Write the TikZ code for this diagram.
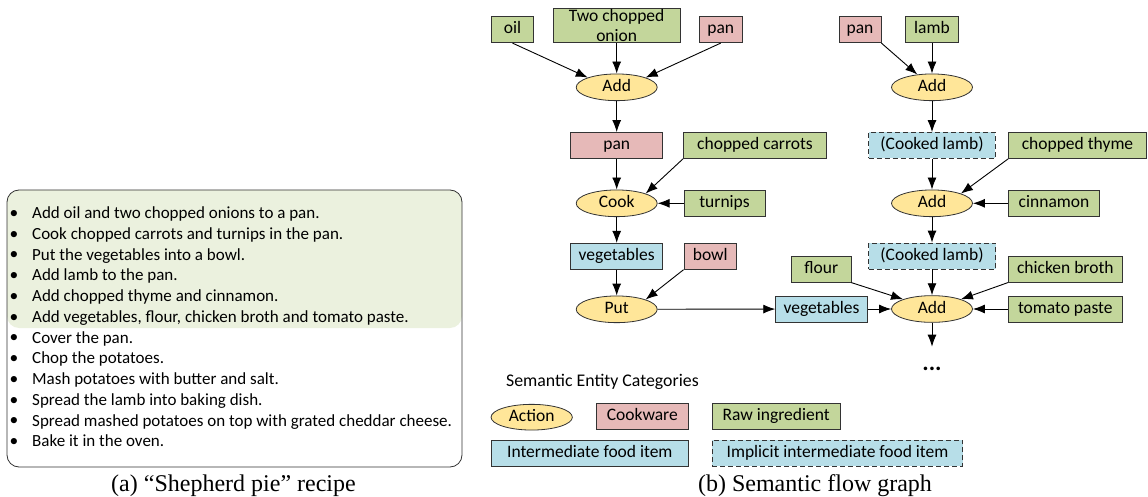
\documentclass[tikz,border=0pt]{standalone}
\usepackage{fontspec}
\setmainfont{Carlito}
\newfontfamily\captionfont{Liberation Serif}
\usetikzlibrary{shapes.geometric,arrows.meta}

\definecolor{actioncolor}{HTML}{FFE699}
\definecolor{cookwarecolor}{HTML}{E6B9B8}
\definecolor{rawcolor}{HTML}{C3D69B}
\definecolor{intercolor}{HTML}{B7DEE8}
\definecolor{recipecolor}{HTML}{EBF1DE}

\begin{document}
\begin{tikzpicture}[x=1pt, y=-1pt, font=\fontsize{17.5}{20.75}\selectfont]
    \tikzstyle{action_style} = [draw=black!80, line width=0.8pt, ellipse, fill=actioncolor, inner sep=0pt, minimum width=81pt, minimum height=26.7pt, text height=12pt, text depth=3.5pt]
    \tikzstyle{box_style} = [draw=black!80, line width=0.8pt, rectangle, inner sep=0pt, minimum height=26pt, text height=12pt, text depth=3.5pt]
    \tikzstyle{cookware_style} = [box_style, fill=cookwarecolor]
    \tikzstyle{raw_style} = [box_style, fill=rawcolor]
    \tikzstyle{inter_style} = [box_style, fill=intercolor]
    \tikzstyle{implicit_style} = [inter_style, dash pattern=on 5pt off 3pt]
    \tikzstyle{arrow_style1} = [-{Latex[length=12pt,width=9pt]}, black, line width=0.9pt]

    \useasboundingbox (0,0) rectangle (1148,497);

    % recipe
    \fill[recipecolor, rounded corners=12pt] (7,190) rectangle (462,328);
    \draw[black!80, line width=0.8pt, rounded corners=12pt] (7,190) rectangle (462,467);
    \foreach \txt [count=\i] in {Add oil and two chopped onions to a pan.,
        Cook chopped carrots and turnips in the pan.,
        Put the vegetables into a bowl.,
        Add lamb to the pan.,
        Add chopped thyme and cinnamon.,
        {Add vegetables, flour, chicken broth and tomato paste.},
        Cover the pan.,
        Chop the potatoes.,
        Mash potatoes with butter and salt.,
        Spread the lamb into baking dish.,
        Spread mashed potatoes on top with grated cheddar cheese.,
        Bake it in the oven.} {
        \node[anchor=west, inner sep=0pt, text height=12pt, text depth=3.5pt, font=\fontsize{17}{20.75}\selectfont] (line\i) at (32, {214.3+20.75*(\i-1)}) {\txt};
        \node[inner sep=0pt] (dot\i) at (14, {214.3+20.75*(\i-1)}) {\textbullet};
    }
    \node[anchor=base, font=\captionfont\fontsize{24}{28}\selectfont] (cap_a) at (233.5,491.5) {(a) “Shepherd pie” recipe};

    % left branch
    \node[raw_style, minimum width=41.6pt] (oil) at (512.5,29.7) {oil};
    \node[raw_style, minimum width=126.7pt, minimum height=34.4pt] (onion) at (616.7,25.5) {};
    \node[align=center, inner sep=0pt] (onion_text) at (onion) {Two chopped\\onion};
    \node[cookware_style, minimum width=42.7pt] (pan1) at (720.7,29.7) {pan};
    \node[action_style] (add1) at (616.7,87.3) {Add};
    \node[cookware_style, minimum width=92pt] (pan2) at (616.7,145.5) {pan};
    \node[raw_style, minimum width=143.3pt] (carrots) at (755,145.5) {chopped carrots};
    \node[action_style] (cook) at (616.7,203.3) {Cook};
    \node[raw_style, minimum width=81pt] (turnips) at (724.5,203.3) {turnips};
    \node[inter_style, minimum width=92pt] (veg1) at (616.7,256.3) {vegetables};
    \node[cookware_style, minimum width=52.7pt] (bowl) at (710.3,256.3) {bowl};
    \node[action_style] (put) at (616.7,309.3) {Put};

    % right branch
    \node[cookware_style, minimum width=42pt] (pan3) at (860,29.7) {pan};
    \node[raw_style, minimum width=52.7pt] (lamb) at (932,29.7) {lamb};
    \node[action_style] (add2) at (932,87.3) {Add};
    \node[implicit_style, minimum width=126.7pt] (lamb1) at (932,145.5) {(Cooked lamb)};
    \node[raw_style, minimum width=138pt] (thyme) at (1077.5,145.5) {chopped thyme};
    \node[action_style] (add3) at (932,203.3) {Add};
    \node[raw_style, minimum width=91.7pt] (cinnamon) at (1054,203.3) {cinnamon};
    \node[implicit_style, minimum width=127pt] (lamb2) at (932,256) {(Cooked lamb)};
    \node[raw_style, minimum width=59.3pt] (flour) at (821.3,269.2) {flour};
    \node[raw_style, minimum width=114pt] (broth) at (1065.3,269.2) {chicken broth};
    \node[inter_style, minimum width=91.7pt] (veg2) at (821.5,309) {vegetables};
    \node[action_style] (add4) at (932,309) {Add};
    \node[raw_style, minimum width=114pt] (paste) at (1065.3,309) {tomato paste};
    \coordinate (more) at (932,346.7);
    \node[anchor=base, font=\bfseries\fontsize{24}{28}\selectfont, inner sep=0pt] (dots) at (932,370) {...};

    \draw[arrow_style1] (oil.south) -- (add1.north west);
    \draw[arrow_style1] (onion) -- (add1);
    \draw[arrow_style1] (pan1.south) -- (add1.north east);
    \draw[arrow_style1] (add1) -- (pan2);
    \draw[arrow_style1] (pan2) -- (cook);
    \draw[arrow_style1] (carrots.south west) -- (cook.north east);
    \draw[arrow_style1] (turnips) -- (cook);
    \draw[arrow_style1] (cook) -- (veg1);
    \draw[arrow_style1] (veg1) -- (put);
    \draw[arrow_style1] (bowl.south west) -- (put.north east);
    \draw[arrow_style1] (put) -- (veg2);
    \draw[arrow_style1] (pan3.south east) -- (add2);
    \draw[arrow_style1] (lamb) -- (add2);
    \draw[arrow_style1] (add2) -- (lamb1);
    \draw[arrow_style1] (lamb1) -- (add3);
    \draw[arrow_style1] (thyme.south west) -- (add3.north east);
    \draw[arrow_style1] (cinnamon) -- (add3);
    \draw[arrow_style1] (add3) -- (lamb2);
    \draw[arrow_style1] (lamb2) -- (add4);
    \draw[arrow_style1] (flour.south east) -- (add4.north west);
    \draw[arrow_style1] (broth.south west) -- (add4.north east);
    \draw[arrow_style1] (veg2) -- (add4);
    \draw[arrow_style1] (paste) -- (add4);
    \draw[arrow_style1] (add4) -- (more);

    % legend
    \node[anchor=west, inner sep=0pt, font=\fontsize{17.8}{20.75}\selectfont] (legend) at (506,381.7) {Semantic Entity Categories};
    \node[action_style, minimum width=81.3pt, minimum height=25.7pt] (leg_action) at (531.7,417.2) {Action};
    \node[cookware_style, minimum width=92.7pt] (leg_cookware) at (642.3,416.3) {Cookware};
    \node[raw_style, minimum width=127.7pt] (leg_raw) at (776.2,416.3) {Raw ingredient};
    \node[inter_style, minimum width=197.7pt] (leg_inter) at (589.8,453) {Intermediate food item};
    \node[implicit_style, minimum width=250.3pt] (leg_implicit) at (837.5,453) {Implicit intermediate food item};
    \node[anchor=base, font=\captionfont\fontsize{24}{28}\selectfont] (cap_b) at (815,491.5) {(b) Semantic flow graph};
\end{tikzpicture}
\end{document}
